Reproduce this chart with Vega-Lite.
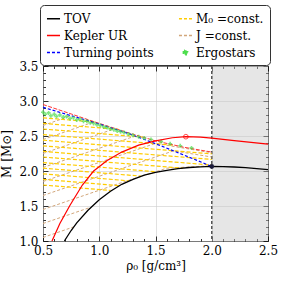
{
  "$schema": "https://vega.github.io/schema/vega-lite/v6.json",
  "width": 225,
  "height": 175,
  "autosize": {"type": "none"},
  "padding": {"left": 43, "top": 66, "right": 15, "bottom": 42},
  "background": "white",
  "config": {
    "font": "DejaVu Serif",
    "view": {"stroke": "black", "strokeWidth": 1},
    "axis": {
      "labelFont": "DejaVu Serif",
      "labelFontSize": 12,
      "labelColor": "black",
      "labelFlush": false,
      "titleFont": "DejaVu Serif",
      "titleFontSize": 12,
      "titleFontWeight": "normal",
      "titleColor": "black",
      "domain": false,
      "tickColor": "black",
      "tickWidth": 0.8,
      "gridColor": "#cccccc",
      "gridWidth": 0.6
    }
  },
  "datasets": {
    "curves": [
      {"series": "TOV", "grp": "tov", "rho": 0.69, "M": 1.0},
      {"series": "TOV", "grp": "tov", "rho": 0.75, "M": 1.15},
      {"series": "TOV", "grp": "tov", "rho": 0.8, "M": 1.26},
      {"series": "TOV", "grp": "tov", "rho": 0.9, "M": 1.44},
      {"series": "TOV", "grp": "tov", "rho": 1.0, "M": 1.59},
      {"series": "TOV", "grp": "tov", "rho": 1.1, "M": 1.71},
      {"series": "TOV", "grp": "tov", "rho": 1.2, "M": 1.81},
      {"series": "TOV", "grp": "tov", "rho": 1.3, "M": 1.88},
      {"series": "TOV", "grp": "tov", "rho": 1.4, "M": 1.94},
      {"series": "TOV", "grp": "tov", "rho": 1.5, "M": 1.98},
      {"series": "TOV", "grp": "tov", "rho": 1.6, "M": 2.01},
      {"series": "TOV", "grp": "tov", "rho": 1.7, "M": 2.035},
      {"series": "TOV", "grp": "tov", "rho": 1.8, "M": 2.05},
      {"series": "TOV", "grp": "tov", "rho": 1.9, "M": 2.06},
      {"series": "TOV", "grp": "tov", "rho": 2.0, "M": 2.065},
      {"series": "TOV", "grp": "tov", "rho": 2.1, "M": 2.063},
      {"series": "TOV", "grp": "tov", "rho": 2.2, "M": 2.057},
      {"series": "TOV", "grp": "tov", "rho": 2.3, "M": 2.047},
      {"series": "TOV", "grp": "tov", "rho": 2.4, "M": 2.035},
      {"series": "TOV", "grp": "tov", "rho": 2.5, "M": 2.02},

      {"series": "Kepler UR", "grp": "kep", "rho": 0.58, "M": 1.0},
      {"series": "Kepler UR", "grp": "kep", "rho": 0.65, "M": 1.25},
      {"series": "Kepler UR", "grp": "kep", "rho": 0.74, "M": 1.51},
      {"series": "Kepler UR", "grp": "kep", "rho": 0.85, "M": 1.8},
      {"series": "Kepler UR", "grp": "kep", "rho": 0.95, "M": 2.0},
      {"series": "Kepler UR", "grp": "kep", "rho": 1.07, "M": 2.15},
      {"series": "Kepler UR", "grp": "kep", "rho": 1.2, "M": 2.27},
      {"series": "Kepler UR", "grp": "kep", "rho": 1.35, "M": 2.37},
      {"series": "Kepler UR", "grp": "kep", "rho": 1.5, "M": 2.43},
      {"series": "Kepler UR", "grp": "kep", "rho": 1.65, "M": 2.475},
      {"series": "Kepler UR", "grp": "kep", "rho": 1.77, "M": 2.49},
      {"series": "Kepler UR", "grp": "kep", "rho": 1.9, "M": 2.485},
      {"series": "Kepler UR", "grp": "kep", "rho": 2.0, "M": 2.47},
      {"series": "Kepler UR", "grp": "kep", "rho": 2.2, "M": 2.435},
      {"series": "Kepler UR", "grp": "kep", "rho": 2.35, "M": 2.41},
      {"series": "Kepler UR", "grp": "kep", "rho": 2.5, "M": 2.385},

      {"series": "upper", "grp": "up", "rho": 0.5, "M": 2.95},
      {"series": "upper", "grp": "up", "rho": 0.75, "M": 2.815},
      {"series": "upper", "grp": "up", "rho": 1.0, "M": 2.68},
      {"series": "upper", "grp": "up", "rho": 1.27, "M": 2.54},
      {"series": "upper", "grp": "up", "rho": 1.5, "M": 2.43},
      {"series": "upper", "grp": "up", "rho": 1.75, "M": 2.34},
      {"series": "upper", "grp": "up", "rho": 2.0, "M": 2.27},

      {"series": "Turning points", "grp": "tp", "rho": 0.5, "M": 2.91},
      {"series": "Turning points", "grp": "tp", "rho": 0.75, "M": 2.79},
      {"series": "Turning points", "grp": "tp", "rho": 1.0, "M": 2.67},
      {"series": "Turning points", "grp": "tp", "rho": 1.27, "M": 2.53},
      {"series": "Turning points", "grp": "tp", "rho": 1.5, "M": 2.39},
      {"series": "Turning points", "grp": "tp", "rho": 1.75, "M": 2.23},
      {"series": "Turning points", "grp": "tp", "rho": 2.0, "M": 2.065},

      {"series": "M₀ =const.", "grp": "y1", "rho": 0.5, "M": 1.8},
      {"series": "M₀ =const.", "grp": "y1", "rho": 1.1, "M": 1.722},
      {"series": "M₀ =const.", "grp": "y2", "rho": 0.5, "M": 1.88},
      {"series": "M₀ =const.", "grp": "y2", "rho": 1.18, "M": 1.79},
      {"series": "M₀ =const.", "grp": "y3", "rho": 0.5, "M": 1.96},
      {"series": "M₀ =const.", "grp": "y3", "rho": 1.26, "M": 1.86},
      {"series": "M₀ =const.", "grp": "y4", "rho": 0.5, "M": 2.04},
      {"series": "M₀ =const.", "grp": "y4", "rho": 1.37, "M": 1.927},
      {"series": "M₀ =const.", "grp": "y5", "rho": 0.5, "M": 2.12},
      {"series": "M₀ =const.", "grp": "y5", "rho": 1.5, "M": 1.99},
      {"series": "M₀ =const.", "grp": "y6", "rho": 0.5, "M": 2.2},
      {"series": "M₀ =const.", "grp": "y6", "rho": 1.74, "M": 2.04},
      {"series": "M₀ =const.", "grp": "y7", "rho": 0.5, "M": 2.28},
      {"series": "M₀ =const.", "grp": "y7", "rho": 2.0, "M": 2.085},
      {"series": "M₀ =const.", "grp": "y8", "rho": 0.5, "M": 2.36},
      {"series": "M₀ =const.", "grp": "y8", "rho": 2.0, "M": 2.165},
      {"series": "M₀ =const.", "grp": "y9", "rho": 0.5, "M": 2.44},
      {"series": "M₀ =const.", "grp": "y9", "rho": 2.0, "M": 2.245},
      {"series": "M₀ =const.", "grp": "y10", "rho": 0.5, "M": 2.52},
      {"series": "M₀ =const.", "grp": "y10", "rho": 1.67, "M": 2.368},
      {"series": "M₀ =const.", "grp": "y11", "rho": 0.5, "M": 2.6},
      {"series": "M₀ =const.", "grp": "y11", "rho": 1.385, "M": 2.485},
      {"series": "M₀ =const.", "grp": "y12", "rho": 0.5, "M": 2.68},
      {"series": "M₀ =const.", "grp": "y12", "rho": 1.17, "M": 2.595},
      {"series": "M₀ =const.", "grp": "y13", "rho": 0.5, "M": 2.76},
      {"series": "M₀ =const.", "grp": "y13", "rho": 0.96, "M": 2.7},

      {"series": "J =const.", "grp": "t1", "rho": 0.5, "M": 1.05},
      {"series": "J =const.", "grp": "t1", "rho": 0.77, "M": 1.2},
      {"series": "J =const.", "grp": "t2", "rho": 0.5, "M": 1.25},
      {"series": "J =const.", "grp": "t2", "rho": 0.92, "M": 1.48},
      {"series": "J =const.", "grp": "t3", "rho": 0.5, "M": 1.45},
      {"series": "J =const.", "grp": "t3", "rho": 1.2, "M": 1.835},
      {"series": "J =const.", "grp": "t3", "rho": 1.6, "M": 2.04},
      {"series": "J =const.", "grp": "t3", "rho": 2.0, "M": 2.075},
      {"series": "J =const.", "grp": "t4", "rho": 0.5, "M": 1.65},
      {"series": "J =const.", "grp": "t4", "rho": 1.66, "M": 2.288},
      {"series": "J =const.", "grp": "t4", "rho": 2.0, "M": 2.2},
      {"series": "J =const.", "grp": "t5", "rho": 0.5, "M": 1.85},
      {"series": "J =const.", "grp": "t5", "rho": 1.5, "M": 2.395},
      {"series": "J =const.", "grp": "t5", "rho": 2.0, "M": 2.26},
      {"series": "J =const.", "grp": "t6", "rho": 0.5, "M": 2.05},
      {"series": "J =const.", "grp": "t6", "rho": 1.32, "M": 2.5},
      {"series": "J =const.", "grp": "t7", "rho": 0.5, "M": 2.25},
      {"series": "J =const.", "grp": "t7", "rho": 1.13, "M": 2.6},
      {"series": "J =const.", "grp": "t8", "rho": 0.5, "M": 2.45},
      {"series": "J =const.", "grp": "t8", "rho": 0.95, "M": 2.7},
      {"series": "J =const.", "grp": "t9", "rho": 0.5, "M": 2.65},
      {"series": "J =const.", "grp": "t9", "rho": 0.75, "M": 2.79}
    ],
    "ergo": [
      {"series": "Ergostars", "rho": 0.5, "M": 2.84},
      {"series": "Ergostars", "rho": 0.52, "M": 2.81},
      {"series": "Ergostars", "rho": 0.55, "M": 2.83},
      {"series": "Ergostars", "rho": 0.57, "M": 2.79},
      {"series": "Ergostars", "rho": 0.6, "M": 2.81},
      {"series": "Ergostars", "rho": 0.62, "M": 2.78},
      {"series": "Ergostars", "rho": 0.65, "M": 2.8},
      {"series": "Ergostars", "rho": 0.68, "M": 2.77},
      {"series": "Ergostars", "rho": 0.71, "M": 2.78},
      {"series": "Ergostars", "rho": 0.74, "M": 2.75},
      {"series": "Ergostars", "rho": 0.77, "M": 2.76},
      {"series": "Ergostars", "rho": 0.8, "M": 2.73},
      {"series": "Ergostars", "rho": 0.83, "M": 2.74},
      {"series": "Ergostars", "rho": 0.86, "M": 2.71},
      {"series": "Ergostars", "rho": 0.89, "M": 2.71},
      {"series": "Ergostars", "rho": 0.92, "M": 2.69},
      {"series": "Ergostars", "rho": 0.95, "M": 2.68},
      {"series": "Ergostars", "rho": 0.98, "M": 2.66},
      {"series": "Ergostars", "rho": 1.01, "M": 2.65},
      {"series": "Ergostars", "rho": 1.04, "M": 2.63},
      {"series": "Ergostars", "rho": 1.07, "M": 2.62},
      {"series": "Ergostars", "rho": 1.1, "M": 2.6},
      {"series": "Ergostars", "rho": 1.13, "M": 2.59},
      {"series": "Ergostars", "rho": 1.16, "M": 2.57},
      {"series": "Ergostars", "rho": 1.19, "M": 2.56},
      {"series": "Ergostars", "rho": 1.22, "M": 2.55},
      {"series": "Ergostars", "rho": 1.26, "M": 2.53},
      {"series": "Ergostars", "rho": 1.3, "M": 2.51},
      {"series": "Ergostars", "rho": 1.35, "M": 2.49},
      {"series": "Ergostars", "rho": 1.4, "M": 2.47},
      {"series": "Ergostars", "rho": 1.46, "M": 2.45},
      {"series": "Ergostars", "rho": 1.55, "M": 2.42},
      {"series": "Ergostars", "rho": 1.63, "M": 2.39},
      {"series": "Ergostars", "rho": 1.72, "M": 2.36},
      {"series": "Ergostars", "rho": 1.82, "M": 2.33}
    ]
  },
  "layer": [
    {
      "data": {"values": [{"a": 2.0, "b": 2.5}]},
      "mark": {"type": "rect", "color": "#c8c8c8", "opacity": 0.45},
      "encoding": {
        "x": {"field": "a", "type": "quantitative",
              "scale": {"domain": [0.5, 2.5], "nice": false, "zero": false},
              "axis": {"orient": "bottom", "values": [0.5, 1.0, 1.5, 2.0, 2.5], "format": ".1f",
                       "grid": true, "tickSize": -5, "labelPadding": 9, "title": "ρ₀  [g/cm³]", "titlePadding": 4}},
        "x2": {"field": "b"}
      }
    },
    {
      "data": {"values": [{"a": 2.0}]},
      "mark": {"type": "rule", "color": "#555555", "strokeDash": [3, 2], "strokeWidth": 1.5},
      "encoding": {
        "x": {"field": "a", "type": "quantitative", "axis": null}
      }
    },
    {
      "data": {"name": "curves"},
      "transform": [{"filter": "datum.series === 'J =const.'"}],
      "mark": {"type": "line", "strokeDash": [3, 2], "strokeWidth": 1},
      "encoding": {
        "x": {"field": "rho", "type": "quantitative",
              "axis": {"orient": "bottom", "values": [0.6,0.7,0.8,0.9,1.1,1.2,1.3,1.4,1.6,1.7,1.8,1.9,2.1,2.2,2.3,2.4],
                       "labels": false, "grid": false, "tickSize": -2.5, "title": null}},
        "y": {"field": "M", "type": "quantitative",
              "scale": {"domain": [1.0, 3.5], "nice": false, "zero": false},
              "axis": {"orient": "left", "values": [1.1,1.2,1.3,1.4,1.6,1.7,1.8,1.9,2.1,2.2,2.3,2.4,2.6,2.7,2.8,2.9,3.1,3.2,3.3,3.4],
                       "labels": false, "grid": false, "tickSize": -2.5, "title": null}},
        "detail": {"field": "grp"},
        "color": {"field": "series", "type": "nominal",
                  "scale": {"domain": ["TOV", "Kepler UR", "Turning points", "M₀ =const.", "J =const.", "Ergostars"],
                            "range": ["black", "red", "blue", "#ffcc00", "#d2a67a", "#4ddd4d"]},
                  "legend": {"orient": "none", "legendX": -3, "legendY": -61, "columns": 2, "title": null,
                             "symbolType": "stroke", "symbolSize": 170, "symbolStrokeWidth": 1.3,
                             "labelFont": "DejaVu Serif", "labelFontSize": 12, "labelColor": "black",
                             "columnPadding": 22, "rowPadding": 3, "padding": 6, "labelOffset": 3,
                             "strokeColor": "#333333", "cornerRadius": 4, "fillColor": "white",
                             "encode": {"symbols": {"update": {
                               "strokeDash": {"signal": "datum.value === 'TOV' || datum.value === 'Kepler UR' ? [1, 0] : [3, 2]"},
                               "shape": {"signal": "datum.value === 'Ergostars' ? 'cross' : 'stroke'"},
                               "size": {"signal": "datum.value === 'Ergostars' ? 20 : 170"},
                               "fill": {"signal": "datum.value === 'Ergostars' ? '#4ddd4d' : 'transparent'"}
                             }}}}}
      }
    },
    {
      "data": {"name": "curves"},
      "transform": [{"filter": "datum.series === 'M₀ =const.'"}],
      "mark": {"type": "line", "strokeDash": [4, 2], "strokeWidth": 1.2},
      "encoding": {
        "x": {"field": "rho", "type": "quantitative",
              "axis": {"orient": "top", "values": [0.6,0.7,0.8,0.9,1.1,1.2,1.3,1.4,1.6,1.7,1.8,1.9,2.1,2.2,2.3,2.4],
                       "labels": false, "grid": false, "tickSize": -2.5, "title": null}},
        "y": {"field": "M", "type": "quantitative",
              "axis": {"orient": "right", "values": [1.1,1.2,1.3,1.4,1.6,1.7,1.8,1.9,2.1,2.2,2.3,2.4,2.6,2.7,2.8,2.9,3.1,3.2,3.3,3.4],
                       "labels": false, "grid": false, "tickSize": -2.5, "title": null}},
        "detail": {"field": "grp"},
        "color": {"field": "series", "type": "nominal"}
      }
    },
    {
      "data": {"name": "curves"},
      "transform": [{"filter": "datum.series === 'upper'"}],
      "mark": {"type": "line", "color": "#ff3333", "strokeDash": [4, 1.5], "strokeWidth": 1},
      "encoding": {
        "x": {"field": "rho", "type": "quantitative", "axis": null},
        "y": {"field": "M", "type": "quantitative", "axis": null}
      }
    },
    {
      "data": {"name": "curves"},
      "transform": [{"filter": "datum.series === 'Turning points'"}],
      "mark": {"type": "line", "strokeDash": [3, 2], "strokeWidth": 1.2},
      "encoding": {
        "x": {"field": "rho", "type": "quantitative",
              "axis": {"orient": "top", "values": [0.5, 1.0, 1.5, 2.0, 2.5], "labels": false, "grid": false, "tickSize": -5, "title": null}},
        "y": {"field": "M", "type": "quantitative",
              "axis": {"orient": "right", "values": [1.0, 1.5, 2.0, 2.5, 3.0, 3.5], "labels": false, "grid": false, "tickSize": -5, "title": null}},
        "color": {"field": "series", "type": "nominal"}
      }
    },
    {
      "data": {"name": "ergo"},
      "mark": {"type": "point", "shape": "cross", "filled": true, "size": 16},
      "encoding": {
        "x": {"field": "rho", "type": "quantitative", "axis": null},
        "y": {"field": "M", "type": "quantitative", "axis": null},
        "color": {"field": "series", "type": "nominal"}
      }
    },
    {
      "data": {"name": "curves"},
      "transform": [{"filter": "datum.series === 'Kepler UR'"}],
      "mark": {"type": "line", "strokeWidth": 1.2},
      "encoding": {
        "x": {"field": "rho", "type": "quantitative", "axis": null},
        "y": {"field": "M", "type": "quantitative", "axis": null},
        "color": {"field": "series", "type": "nominal"}
      }
    },
    {
      "data": {"name": "curves"},
      "transform": [{"filter": "datum.series === 'TOV'"}],
      "mark": {"type": "line", "strokeWidth": 1.3},
      "encoding": {
        "x": {"field": "rho", "type": "quantitative", "axis": null},
        "y": {"field": "M", "type": "quantitative",
              "axis": {"orient": "left", "values": [1.0, 1.5, 2.0, 2.5, 3.0, 3.5], "format": ".1f",
                       "grid": true, "tickSize": -5, "labelPadding": 10, "title": "M  [M⊙]", "titlePadding": 5}},
        "color": {"field": "series", "type": "nominal"}
      }
    },
    {
      "data": {"values": [{"rho": 1.77, "M": 2.49}]},
      "mark": {"type": "point", "shape": "circle", "filled": false, "color": "red", "size": 22, "strokeWidth": 1},
      "encoding": {
        "x": {"field": "rho", "type": "quantitative", "axis": null},
        "y": {"field": "M", "type": "quantitative", "axis": null}
      }
    },
    {
      "data": {"values": [{"rho": 2.0, "M": 2.065}]},
      "mark": {"type": "point", "shape": "circle", "filled": true, "color": "#1a1a3a", "size": 22, "opacity": 1},
      "encoding": {
        "x": {"field": "rho", "type": "quantitative", "axis": null},
        "y": {"field": "M", "type": "quantitative", "axis": null}
      }
    },
    {
      "mark": {"type": "text", "font": "DejaVu Serif", "fontSize": 12, "fontStyle": "italic", "color": "#333333"},
      "encoding": {
        "x": {"datum": 2.22, "type": "quantitative", "axis": null},
        "y": {"datum": 2.84, "type": "quantitative", "axis": null},
        "text": {"value": "cₛ > c"}
      }
    },
    {
      "mark": {"type": "text", "font": "DejaVu Serif", "fontSize": 12, "color": "black"},
      "encoding": {
        "x": {"datum": 1.4, "type": "quantitative", "axis": null},
        "y": {"datum": 1.3, "type": "quantitative", "axis": null},
        "text": {"value": "Â⁻¹ = 1.0"}
      }
    },
    {
      "mark": {"type": "text", "font": "DejaVu Serif", "fontSize": 11, "color": "black", "align": "right", "dy": 24},
      "encoding": {
        "x": {"datum": 2.5, "type": "quantitative", "axis": null},
        "y": {"datum": 1.0, "type": "quantitative", "axis": null},
        "text": {"value": "×10¹⁵"}
      }
    }
  ],
  "resolve": {"axis": {"x": "independent", "y": "independent"}}
}
